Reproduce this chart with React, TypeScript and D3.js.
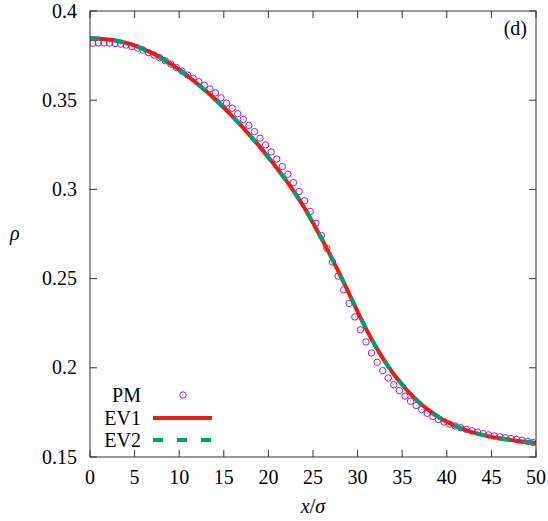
import React from "react";
import * as d3 from "d3";

// axis ticks
const xTicks = [0, 5, 10, 15, 20, 25, 30, 35, 40, 45, 50];
const yTicks = [0.15, 0.2, 0.25, 0.3, 0.35, 0.4];
const yTickLabels = ["0.15", "0.2", "0.25", "0.3", "0.35", "0.4"];

// EV curves, sampled at integer x/sigma
const evX = [
  0, 1, 2, 3, 4, 5, 6, 7, 8, 9, 10, 11, 12, 13, 14, 15, 16, 17, 18, 19, 20, 21, 22, 23, 24, 25,
  26, 27, 28, 29, 30, 31, 32, 33, 34, 35, 36, 37, 38, 39, 40, 41, 42, 43, 44, 45, 46, 47, 48, 49, 50,
];
const ev1 = [
  0.3845, 0.3844, 0.384, 0.3833, 0.3822, 0.3807, 0.3787, 0.3763, 0.3736, 0.3705, 0.3671, 0.3634,
  0.3594, 0.3552, 0.3507, 0.3459, 0.3408, 0.3355, 0.3299, 0.3241, 0.318, 0.3116, 0.3049, 0.2978,
  0.29, 0.2812, 0.272, 0.2625, 0.2525, 0.242, 0.2315, 0.2214, 0.2122, 0.204, 0.1968, 0.1905, 0.185,
  0.1802, 0.1761, 0.1726, 0.1697, 0.1673, 0.1653, 0.1637, 0.1624, 0.1613, 0.1604, 0.1597, 0.159,
  0.1584, 0.1578,
];
const ev2 = [
  0.3848, 0.3846, 0.3841, 0.3833, 0.3821, 0.3805, 0.3785, 0.3761, 0.3734, 0.3703, 0.3669, 0.3632,
  0.3592, 0.355, 0.3505, 0.3457, 0.3407, 0.3354, 0.3298, 0.324, 0.3179, 0.3115, 0.3048, 0.2977,
  0.2899, 0.2812, 0.2721, 0.2626, 0.2526, 0.2421, 0.2316, 0.2215, 0.2123, 0.2041, 0.1969, 0.1906,
  0.1851, 0.1803, 0.1762, 0.1727, 0.1698, 0.1673, 0.1653, 0.1637, 0.1624, 0.1613, 0.1604, 0.1597,
  0.159, 0.1584, 0.1578,
];

// PM points (bin centres)
const pmX = [
  0.3125, 0.9375, 1.5625, 2.1875, 2.8125, 3.4375, 4.0625, 4.6875, 5.3125, 5.9375, 6.5625, 7.1875,
  7.8125, 8.4375, 9.0625, 9.6875, 10.3125, 10.9375, 11.5625, 12.1875, 12.8125, 13.4375, 14.0625,
  14.6875, 15.3125, 15.9375, 16.5625, 17.1875, 17.8125, 18.4375, 19.0625, 19.6875, 20.3125,
  20.9375, 21.5625, 22.1875, 22.8125, 23.4375, 24.0625, 24.6875, 25.3125, 25.9375, 26.5625,
  27.1875, 27.8125, 28.4375, 29.0625, 29.6875, 30.3125, 30.9375, 31.5625, 32.1875, 32.8125,
  33.4375, 34.0625, 34.6875, 35.3125, 35.9375, 36.5625, 37.1875, 37.8125, 38.4375, 39.0625,
  39.6875, 40.3125, 40.9375, 41.5625, 42.1875, 42.8125, 43.4375, 44.0625, 44.6875, 45.3125,
  45.9375, 46.5625, 47.1875, 47.8125, 48.4375, 49.0625, 49.6875,
];
const pm = [
  0.3819, 0.3821, 0.3821, 0.382, 0.3818, 0.3814, 0.3809, 0.3801, 0.3792, 0.3781,
  0.3767, 0.3753, 0.3738, 0.3721, 0.3703, 0.3683, 0.3663, 0.3641, 0.3623, 0.3604,
  0.3584, 0.3563, 0.3541, 0.3513, 0.3484, 0.3455, 0.3424, 0.3392, 0.3359, 0.3324,
  0.3287, 0.3249, 0.321, 0.317, 0.3128, 0.3085, 0.3038, 0.2988, 0.2936, 0.2876,
  0.281, 0.2742, 0.2669, 0.2593, 0.2514, 0.2437, 0.2361, 0.2285, 0.2213, 0.2145,
  0.2083, 0.2031, 0.1984, 0.1943, 0.1905, 0.1872, 0.1841, 0.1813, 0.1789, 0.1766,
  0.1745, 0.1727, 0.171, 0.1696, 0.1684, 0.1674, 0.1664, 0.1655, 0.1647, 0.1639,
  0.1631, 0.1624, 0.1618, 0.1613, 0.1608, 0.1604, 0.1599, 0.1594, 0.1587, 0.1581,
];

const legendNames = ["PM", "EV1", "EV2"];

const width = 548;
const height = 521;
const margin = { top: 11, right: 12, bottom: 64, left: 90 };
const textStyle = {
  fontFamily: '"Liberation Serif", "DejaVu Serif", "Times New Roman", serif',
  fontSize: "20px",
};
const purple = "#9400d3";
const red = "#e51e10";
const green = "#009e73";

export default function App() {
  const x = d3.scaleLinear().domain([0, 50]).range([margin.left, width - margin.right]);
  const y = d3.scaleLinear().domain([0.15, 0.4]).range([height - margin.bottom, margin.top]);
  const [x0, x1] = x.range();
  const [y0, y1] = y.range();

  const line = d3
    .line<number>()
    .x((_, i) => x(evX[i]))
    .y((d) => y(d))
    .curve(d3.curveMonotoneX);

  const tick = 7;
  const legX = 141;
  const legY = [395, 418, 440];

  return (
    <div style={{ position: "absolute", left: 0, top: 0 }}>
      <svg width={width} height={height} style={{ display: "block", background: "#fff" }}>
        <defs>
          <clipPath id="plot-clip">
            <rect x={x0} y={y1} width={x1 - x0} height={y0 - y1} />
          </clipPath>
        </defs>

        {/* ticks, mirrored on all sides */}
        <g stroke="#333" strokeWidth={1}>
          {xTicks.map((t) => (
            <g key={"x" + t}>
              <line x1={x(t)} x2={x(t)} y1={y0} y2={y0 - tick} />
              <line x1={x(t)} x2={x(t)} y1={y1} y2={y1 + tick} />
            </g>
          ))}
          {yTicks.map((t) => (
            <g key={"y" + t}>
              <line x1={x0} x2={x0 + tick} y1={y(t)} y2={y(t)} />
              <line x1={x1} x2={x1 - tick} y1={y(t)} y2={y(t)} />
            </g>
          ))}
        </g>

        <g style={textStyle} fill="#000">
          {xTicks.map((t) => (
            <text key={"xl" + t} x={x(t)} y={y0 + 27} textAnchor="middle">
              {t}
            </text>
          ))}
          {yTicks.map((t, i) => (
            <text key={"yl" + t} x={x0 - 13} y={y(t)} dy="0.33em" textAnchor="end">
              {yTickLabels[i]}
            </text>
          ))}
          <text x={10} y={240} fontStyle="italic">
            ρ
          </text>
          <text x={(x0 + x1) / 2} y={513} textAnchor="middle">
            <tspan fontStyle="italic">x</tspan>
            <tspan>/</tspan>
            <tspan fontStyle="italic">σ</tspan>
          </text>
          <text x={x1 - 9} y={35} textAnchor="end">
            (d)
          </text>
        </g>

        <g clipPath="url(#plot-clip)">
          {pm.map((d, i) => (
            <g key={"pm" + i}>
              <circle cx={x(pmX[i])} cy={y(d)} r={3.2} fill="none" stroke={purple} strokeWidth={0.9} />
              <circle cx={x(pmX[i])} cy={y(d)} r={0.5} fill={purple} opacity={0.6} />
            </g>
          ))}
          <path d={line(ev1) ?? ""} fill="none" stroke={red} strokeWidth={4} />
          <path
            d={line(ev2) ?? ""}
            fill="none"
            stroke={green}
            strokeWidth={4}
            strokeDasharray="10,14"
          />
        </g>

        <rect
          x={x0}
          y={y1}
          width={x1 - x0}
          height={y0 - y1}
          fill="none"
          stroke="#333"
          strokeWidth={1}
        />

        {/* legend */}
        <g style={textStyle} fill="#000">
          {legendNames.map((n, i) => (
            <text key={n} x={legX} y={legY[i]} dy="0.33em" textAnchor="end">
              {n}
            </text>
          ))}
        </g>
        <circle cx={183} cy={legY[0]} r={3.2} fill="none" stroke={purple} strokeWidth={0.9} />
        <circle cx={183} cy={legY[0]} r={0.5} fill={purple} opacity={0.6} />
        <line x1={153} x2={212} y1={legY[1]} y2={legY[1]} stroke={red} strokeWidth={4} />
        <line
          x1={153}
          x2={212}
          y1={legY[2]}
          y2={legY[2]}
          stroke={green}
          strokeWidth={4}
          strokeDasharray="10,14"
        />
      </svg>
    </div>
  );
}
